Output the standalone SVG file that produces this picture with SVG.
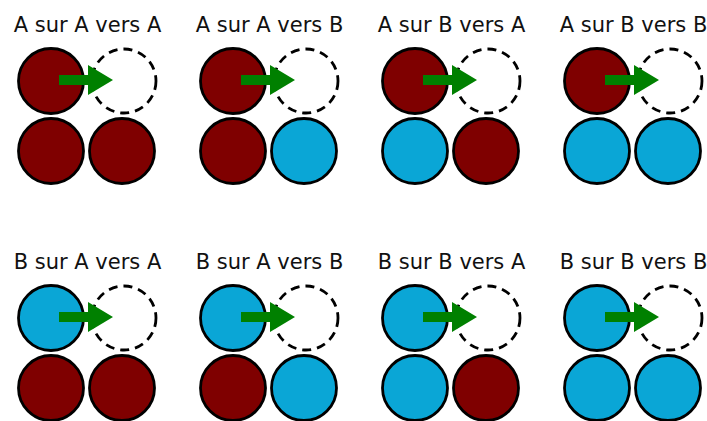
<svg xmlns="http://www.w3.org/2000/svg" xmlns:xlink="http://www.w3.org/1999/xlink" width="707" height="421" viewBox="0 0 707 421">
<style>
  .lbl { font-family: "DejaVu Sans", "Liberation Sans", sans-serif; font-size: 21px; fill: #111; text-anchor: middle; }
  .a { fill: #7f0000; stroke: #000; stroke-width: 2.8; }
  .b { fill: #0aa6d6; stroke: #000; stroke-width: 2.8; }
  .target { fill: none; stroke: #000; stroke-width: 2.8; stroke-dasharray: 9 6; }
  .arrow { fill: #008000; stroke: none; }
</style>
<defs>
  <path id="arrow" d="M59,75 H88 V65 L113,80 L88,95 V85 H59 Z"/>
</defs>
<rect width="707" height="421" fill="#fff"/>
<g id="panel-AAA">
  <text class="lbl" x="87.5" y="31.5">A sur A vers A</text>
  <circle class="a" cx="51" cy="81" r="32.5"/>
  <circle class="target" cx="124" cy="81" r="32"/>
  <circle class="a" cx="51" cy="151" r="32.5"/>
  <circle class="a" cx="122" cy="151" r="32.5"/>
</g>
<g id="panel-AAB" transform="translate(182,0)">
  <text class="lbl" x="87.5" y="31.5">A sur A vers B</text>
  <circle class="a" cx="51" cy="81" r="32.5"/>
  <circle class="target" cx="124" cy="81" r="32"/>
  <circle class="a" cx="51" cy="151" r="32.5"/>
  <circle class="b" cx="122" cy="151" r="32.5"/>
</g>
<g id="panel-ABA" transform="translate(364,0)">
  <text class="lbl" x="87.5" y="31.5">A sur B vers A</text>
  <circle class="a" cx="51" cy="81" r="32.5"/>
  <circle class="target" cx="124" cy="81" r="32"/>
  <circle class="b" cx="51" cy="151" r="32.5"/>
  <circle class="a" cx="122" cy="151" r="32.5"/>
</g>
<g id="panel-ABB" transform="translate(546,0)">
  <text class="lbl" x="87.5" y="31.5">A sur B vers B</text>
  <circle class="a" cx="51" cy="81" r="32.5"/>
  <circle class="target" cx="124" cy="81" r="32"/>
  <circle class="b" cx="51" cy="151" r="32.5"/>
  <circle class="b" cx="122" cy="151" r="32.5"/>
</g>
<g id="panel-BAA" transform="translate(0,237)">
  <text class="lbl" x="87.5" y="31.5">B sur A vers A</text>
  <circle class="b" cx="51" cy="81" r="32.5"/>
  <circle class="target" cx="124" cy="81" r="32"/>
  <circle class="a" cx="51" cy="151" r="32.5"/>
  <circle class="a" cx="122" cy="151" r="32.5"/>
</g>
<g id="panel-BAB" transform="translate(182,237)">
  <text class="lbl" x="87.5" y="31.5">B sur A vers B</text>
  <circle class="b" cx="51" cy="81" r="32.5"/>
  <circle class="target" cx="124" cy="81" r="32"/>
  <circle class="a" cx="51" cy="151" r="32.5"/>
  <circle class="b" cx="122" cy="151" r="32.5"/>
</g>
<g id="panel-BBA" transform="translate(364,237)">
  <text class="lbl" x="87.5" y="31.5">B sur B vers A</text>
  <circle class="b" cx="51" cy="81" r="32.5"/>
  <circle class="target" cx="124" cy="81" r="32"/>
  <circle class="b" cx="51" cy="151" r="32.5"/>
  <circle class="a" cx="122" cy="151" r="32.5"/>
</g>
<g id="panel-BBB" transform="translate(546,237)">
  <text class="lbl" x="87.5" y="31.5">B sur B vers B</text>
  <circle class="b" cx="51" cy="81" r="32.5"/>
  <circle class="target" cx="124" cy="81" r="32"/>
  <circle class="b" cx="51" cy="151" r="32.5"/>
  <circle class="b" cx="122" cy="151" r="32.5"/>
</g>
<g id="connectors" class="arrow">
  <use href="#arrow" xlink:href="#arrow" x="0" y="0"/>
  <use href="#arrow" xlink:href="#arrow" x="182" y="0"/>
  <use href="#arrow" xlink:href="#arrow" x="364" y="0"/>
  <use href="#arrow" xlink:href="#arrow" x="546" y="0"/>
  <use href="#arrow" xlink:href="#arrow" x="0" y="237"/>
  <use href="#arrow" xlink:href="#arrow" x="182" y="237"/>
  <use href="#arrow" xlink:href="#arrow" x="364" y="237"/>
  <use href="#arrow" xlink:href="#arrow" x="546" y="237"/>
</g>
</svg>
